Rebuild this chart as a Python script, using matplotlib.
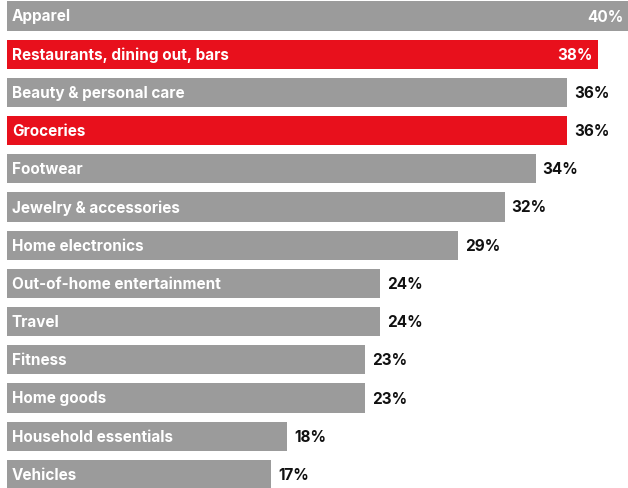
import matplotlib.pyplot as plt

categories = ["Apparel", "Restaurants, dining out, bars", "Beauty & personal care",
              "Groceries", "Footwear", "Jewelry & accessories", "Home electronics",
              "Out-of-home entertainment", "Travel", "Fitness", "Home goods",
              "Household essentials", "Vehicles"]
values = [40, 38, 36, 36, 34, 32, 29, 24, 24, 23, 23, 18, 17]
highlight = ["Restaurants, dining out, bars", "Groceries"]
# value labels that sit inside the bar
inside = ["Apparel", "Restaurants, dining out, bars"]

GRAY = "#9b9b9b"
RED = "#e8101c"

plt.rcParams['font.family'] = ['Inter', 'DejaVu Sans']

fig = plt.figure(figsize=(6.28, 4.89), dpi=100)
ax = fig.add_axes([7 / 628, 0, 1 - 7 / 628, 1])

px_per_pct = 15.55
row_px = 38.2
xmax = (628 - 7) / px_per_pct
ax.set_xlim(0, xmax)
ax.set_ylim((489 - 17) / row_px, -17 / row_px)

colors = [RED if c in highlight else GRAY for c in categories]
ypos = list(range(len(categories)))
ax.barh(ypos, values, height=0.76, color=colors, edgecolor="none")

pad = 5 / px_per_pct
for y, cat, v in zip(ypos, categories, values):
    ax.text(pad, y, cat, color="white", fontsize=11, fontweight="bold",
            va="center", ha="left")
    label = f"{v}%"
    if cat in inside:
        ax.text(v - pad, y, label, color="white", fontsize=11,
                fontweight="bold", va="center", ha="right")
    else:
        ax.text(v + 7 / px_per_pct, y, label, color="#111111", fontsize=11,
                fontweight="bold", va="center", ha="left")

ax.axis("off")
fig.savefig("out.png", dpi=100)
